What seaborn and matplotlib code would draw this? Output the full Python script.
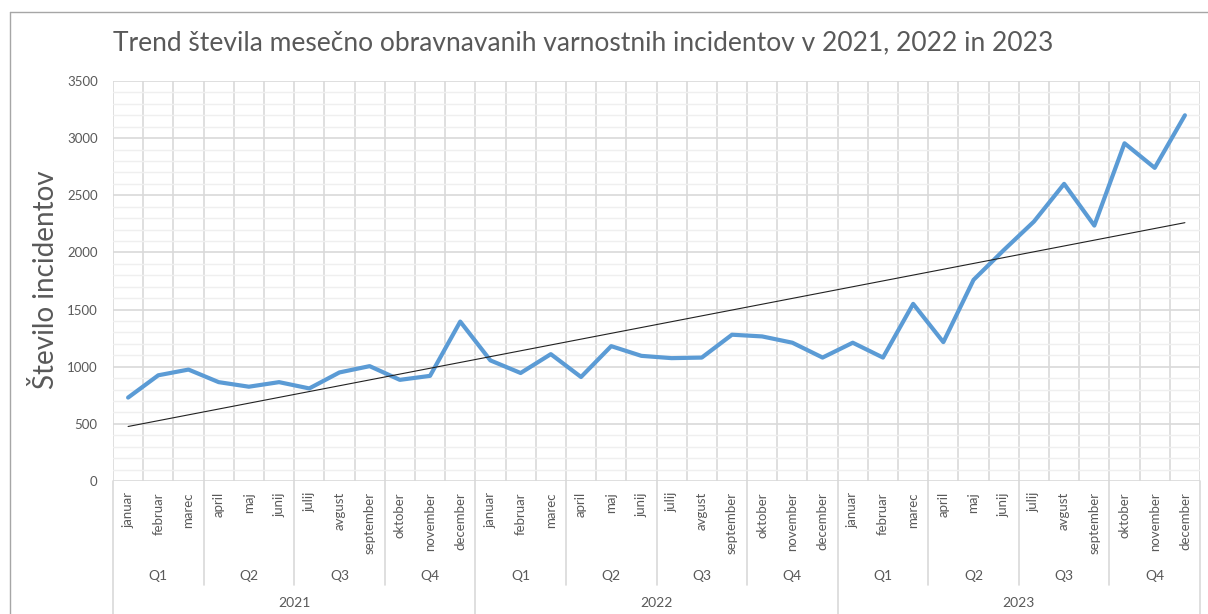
import numpy as np
import pandas as pd
import matplotlib
matplotlib.use("Agg")
import matplotlib.pyplot as plt
import matplotlib.transforms as mtransforms
from matplotlib.lines import Line2D
import seaborn as sns

# ---- data ----
years = ["2021", "2022", "2023"]
quarters = ["Q1", "Q2", "Q3", "Q4"]
months = ["januar", "februar", "marec", "april", "maj", "junij",
          "julij", "avgust", "september", "oktober", "november", "december"]
values_2021 = [730, 925, 975, 865, 825, 865, 810, 950, 1005, 885, 920, 1395]
values_2022 = [1055, 945, 1110, 910, 1180, 1095, 1075, 1080, 1280, 1265, 1210, 1080]
values_2023 = [1210, 1080, 1550, 1215, 1760, 2020, 2270, 2600, 2235, 2955, 2740, 3200]
title = "Trend števila mesečno obravnavanih varnostnih incidentov v 2021, 2022 in 2023"
ylabel = "Število incidentov"

values = values_2021 + values_2022 + values_2023
n = len(values)
df = pd.DataFrame({"idx": np.arange(n), "value": values,
                   "month": months * 3})

sns.set_theme(style="white")
plt.rcParams["font.family"] = ["Lato", "DejaVu Sans"]

W, H = 1208, 614
fig = plt.figure(figsize=(W / 100, H / 100), dpi=100)
left, right, top, bottom = 113, 1200, 81, 481
ax = fig.add_axes([left / W, (H - bottom) / H, (right - left) / W, (bottom - top) / H])

GRID = "#d9d9d9"
MINOR = "#efefef"
TXT = "#595959"

ax.set_xlim(-0.5, n - 0.5)
ax.set_ylim(0, 3500)

# gridlines
ax.set_yticks(np.arange(0, 3501, 500))
ax.set_yticks(np.arange(0, 3501, 100), minor=True)
ax.set_xticks(np.arange(n))
ax.set_xticks(np.arange(-0.5, n, 1.0), minor=True)
ax.yaxis.grid(True, which="minor", color=MINOR, linewidth=1.0, zorder=0)
ax.yaxis.grid(True, which="major", color=GRID, linewidth=1.2, zorder=0)
ax.xaxis.grid(True, which="minor", color=GRID, linewidth=1.2, zorder=0)
ax.xaxis.grid(False, which="major")
ax.set_axisbelow(True)
for s in ax.spines.values():
    s.set_visible(False)

# main line
sns.lineplot(data=df, x="idx", y="value", ax=ax, color="#5b9bd5",
             linewidth=3.0, zorder=3, legend=False)

# linear trendline
coef = np.polyfit(df["idx"], df["value"], 1)
ax.plot(df["idx"], np.polyval(coef, df["idx"]), color="#222222",
        linewidth=0.8, zorder=4)

ax.set_xlabel("")
ax.set_ylabel("")
ax.set_xticklabels(months * 3, rotation=90, fontsize=9.5, color=TXT)
ax.tick_params(axis="x", which="both", length=0, pad=8)
ax.tick_params(axis="y", which="both", length=0, pad=11, labelsize=9.5,
               labelcolor=TXT)

# hierarchical labels
tr = mtransforms.blended_transform_factory(ax.transData, ax.transAxes)
axh = bottom - top
def yfrac(py):
    return (bottom - py) / axh

for qi in range(12):
    xc = qi * 3 + 1
    ax.text(xc, yfrac(576), quarters[qi % 4], transform=tr, ha="center",
            va="center", fontsize=10, color=TXT)
for yi in range(3):
    xc = yi * 12 + 5.5
    ax.text(xc, yfrac(603), years[yi], transform=tr, ha="center",
            va="center", fontsize=10, color=TXT)
# separators
for qi in range(1, 12):
    if qi % 4 == 0:
        continue
    x = qi * 3 - 0.5
    ax.add_line(Line2D([x, x], [0, yfrac(585)], transform=tr, color=GRID,
                       linewidth=1.2, clip_on=False))
for yi in range(4):
    x = yi * 12 - 0.5
    ax.add_line(Line2D([x, x], [0, yfrac(H + 2)], transform=tr, color=GRID,
                       linewidth=1.2, clip_on=False))

# title and y-label
fig.text(113 / W, 1 - 43 / H, title, ha="left", va="center", fontsize=19,
         color=TXT, fontweight="normal")
fig.text(46 / W, 1 - 280 / H, ylabel, ha="center", va="center", rotation=90,
         fontsize=20, color=TXT, fontweight="normal")

# chart border (left and top visible)
fig.add_artist(Line2D([10 / W, 10 / W], [0, 1 - 12 / H], color="#a6a6a6",
                      linewidth=1.0, transform=fig.transFigure))
fig.add_artist(Line2D([10 / W, 1], [1 - 12 / H, 1 - 12 / H], color="#a6a6a6",
                      linewidth=1.0, transform=fig.transFigure))

fig.savefig("out.png", dpi=100, facecolor="white")
